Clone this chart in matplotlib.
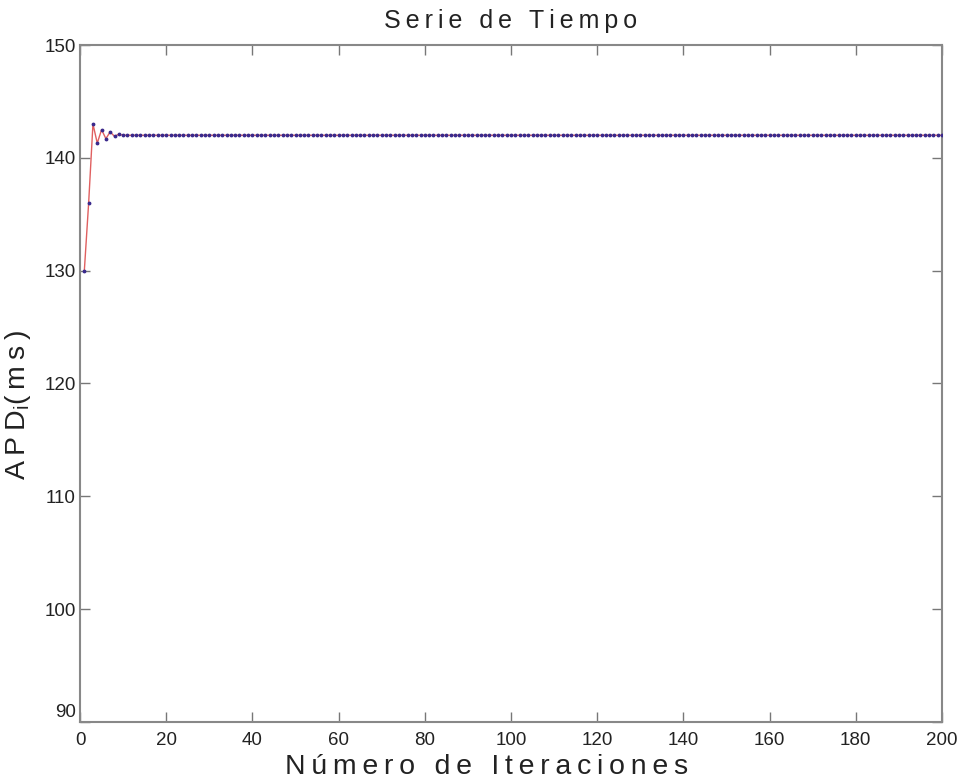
import numpy as np
import matplotlib
matplotlib.use('Agg')
import matplotlib.pyplot as plt
import matplotlib.transforms as mtransforms

# serie APD por iteracion (transitorio inicial y luego estado estacionario)
transitorio = [130.0, 136.0, 143.0, 141.3, 142.5, 141.7, 142.3, 141.9, 142.1]
estacionario = 142.0
n_iter = 200

iteraciones = np.arange(1, n_iter + 1)
apd = np.array(transitorio + [estacionario] * (n_iter - len(transitorio)))

x_ticks = [0, 20, 40, 60, 80, 100, 120, 140, 160, 180, 200]
y_ticks = [90, 100, 110, 120, 130, 140, 150]

plt.rcParams['font.family'] = ['Liberation Sans', 'DejaVu Sans']


def espaciado(texto):
    # separa las letras con espacios finos
    return '\u2009'.join(texto)


fig = plt.figure(figsize=(9.63, 7.84), dpi=100)
ax = fig.add_axes([0.0831, 0.0791, 0.8951, 0.8635])

ax.plot(iteraciones, apd, color='#e06060', lw=1.0, zorder=2)
ax.plot(iteraciones, apd, ls='none', marker='.', ms=3.5, color='#3a2a8c', zorder=3)

ax.set_xlim(0, 200)
ax.set_ylim(90, 150)
ax.set_xticks(x_ticks)
ax.set_yticks(y_ticks)

for s in ax.spines.values():
    s.set_color('#888888')
    s.set_linewidth(1.5)
ax.tick_params(direction='in', length=7, width=1, colors='#777777',
               top=True, right=True, labelsize=13.5, labelcolor='#222222')
ax.tick_params(axis='x', pad=7)
ax.tick_params(axis='y', pad=3)

# el 90 sube un poco para no chocar con el 0
lbl90 = ax.get_yticklabels()[0]
lbl90.set_transform(lbl90.get_transform() +
                    mtransforms.ScaledTranslation(0, 8 / 72, fig.dpi_scale_trans))

ax.set_title(espaciado('Serie de Tiempo'), fontsize=18, color='#222222', pad=12)
ax.set_xlabel(espaciado('Número de Iteraciones'), fontsize=20.5, color='#222222')
ax.xaxis.set_label_coords(0.472, -0.048)
ax.set_ylabel('A\u2009P\u2009D$_{\\mathregular{i}}$(\u2009m\u2009s\u2009)',
              fontsize=20.5, color='#222222')
ax.yaxis.set_label_coords(-0.055, 0.468)

fig.savefig('out.png', dpi=100)
